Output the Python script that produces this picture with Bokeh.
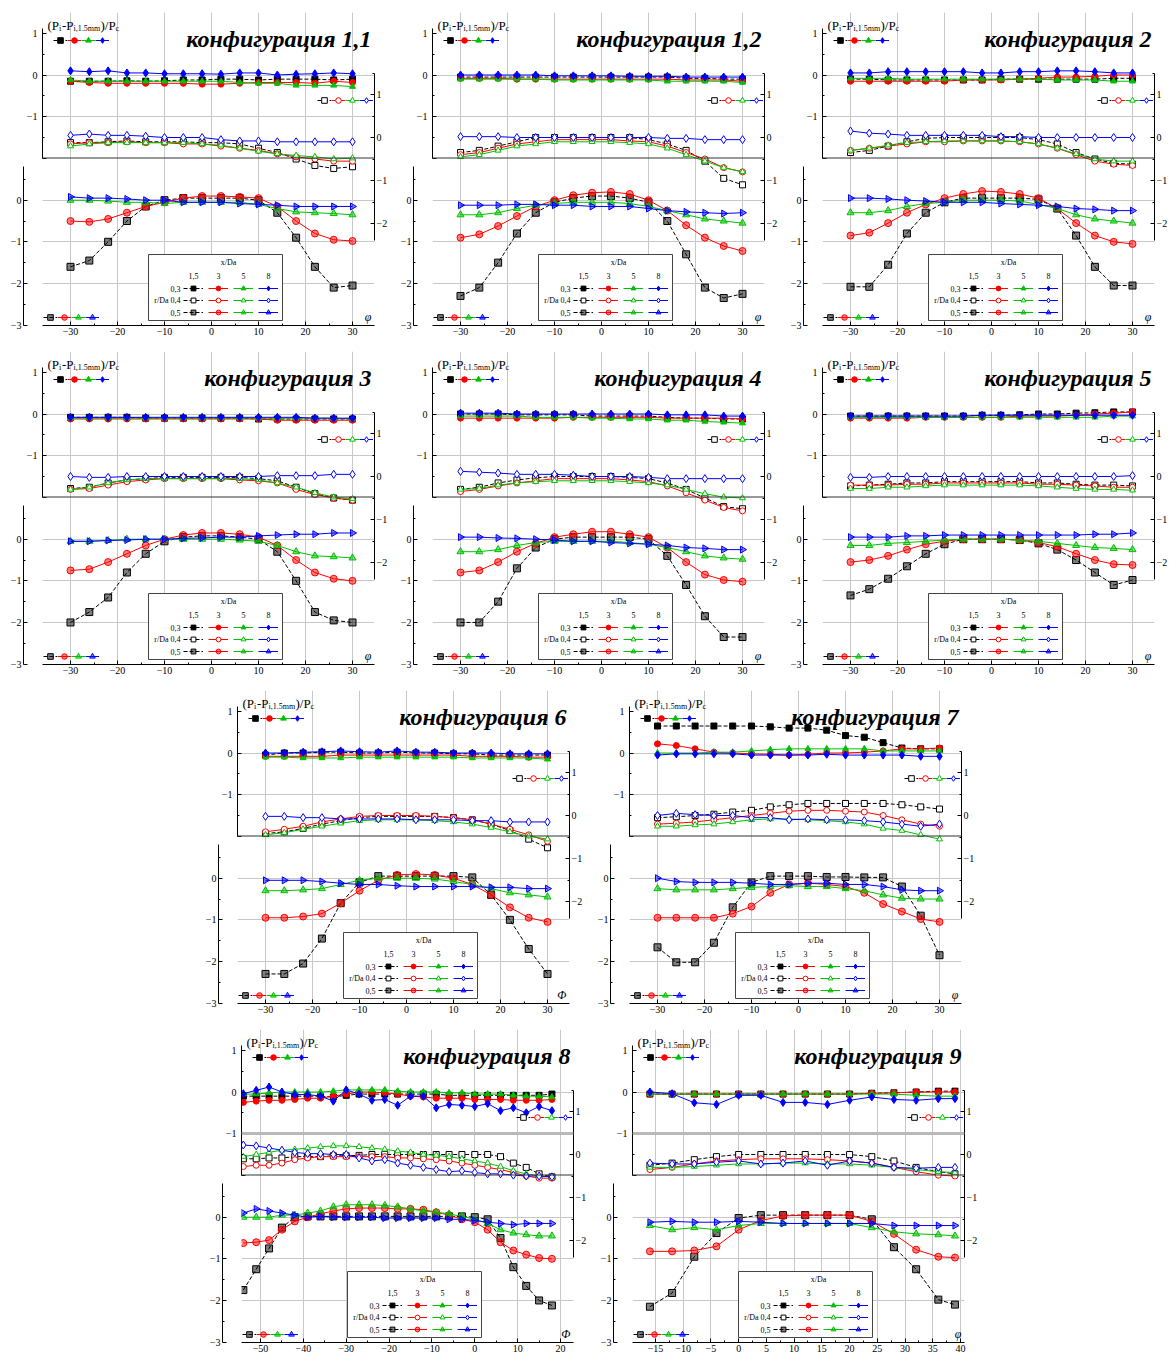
import numpy as np
from bokeh.plotting import figure
from bokeh.models import (Range1d, LinearAxis, FixedTicker, Grid, Span, Label, Legend,
                          LegendItem, BoxAnnotation, Spacer)
from bokeh.layouts import column, row
from bokeh.embed import file_html
from bokeh.resources import INLINE

# ---------------- data ----------------
titles = ["конфигурация 1,1", "конфигурация 1,2", "конфигурация 2", "конфигурация 3",
          "конфигурация 4", "конфигурация 5", "конфигурация 6", "конфигурация 7",
          "конфигурация 8", "конфигурация 9"]

x_std = [-30, -26, -22, -18, -14, -10, -6, -2, 2, 6, 10, 14, 18, 22, 26, 30]
x_c8 = [-54, -51, -48, -45, -42, -39, -36, -33, -30, -27, -24, -21, -18, -15, -12, -9, -6, -3, 0, 3, 6, 9, 12, 15, 18]
x_c9 = [-16, -12, -8, -4, 0, 4, 8, 12, 16, 20, 24, 28, 32, 36, 39]

xticks_std = [-30, -20, -10, 0, 10, 20, 30]
xticks_c8 = [-50, -40, -30, -20, -10, 0, 10, 20]
xticks_c9 = [-15, -10, -5, 0, 5, 10, 15, 20, 25, 30, 35, 40]

series_colors = ["#000000", "#ff0000", "#00c000", "#0000ff"]
x_da_labels = ["1,5", "3", "5", "8"]
row_labels = ["0,3", "r/Da 0,4", "0,5"]

# each group: [black, red, green, blue]
c11_top = [[-0.15, -0.15, -0.15, -0.14, -0.15, -0.14, -0.12, -0.12, -0.1, -0.1, -0.12, -0.1, -0.1, -0.1, -0.12, -0.1],
           [-0.15, -0.18, -0.2, -0.2, -0.2, -0.2, -0.2, -0.22, -0.22, -0.2, -0.18, -0.18, -0.18, -0.2, -0.15, -0.18],
           [-0.12, -0.15, -0.15, -0.15, -0.15, -0.15, -0.15, -0.15, -0.15, -0.18, -0.2, -0.2, -0.25, -0.25, -0.25, -0.28],
           [0.1, 0.08, 0.1, 0.05, 0.05, 0.03, 0.03, 0.03, 0.02, 0.05, 0.05, 0.0, 0.02, 0.03, 0.05, 0.03]]
c11_mid = [[-0.12, -0.12, -0.1, -0.08, -0.1, -0.1, -0.1, -0.12, -0.12, -0.15, -0.25, -0.35, -0.5, -0.65, -0.72, -0.68],
           [-0.15, -0.12, -0.12, -0.1, -0.12, -0.12, -0.15, -0.15, -0.2, -0.25, -0.3, -0.38, -0.45, -0.5, -0.55, -0.55],
           [-0.2, -0.15, -0.12, -0.12, -0.12, -0.12, -0.12, -0.15, -0.18, -0.25, -0.32, -0.38, -0.42, -0.45, -0.5, -0.48],
           [0.05, 0.08, 0.05, 0.05, 0.03, 0.0, 0.0, 0.0, -0.05, -0.08, -0.08, -0.1, -0.1, -0.1, -0.1, -0.1]]
c11_bot = [[-1.6, -1.45, -1.0, -0.5, -0.15, 0.0, 0.05, 0.05, 0.05, 0.05, 0.0, -0.3, -0.9, -1.6, -2.1, -2.05],
           [-0.5, -0.52, -0.45, -0.3, -0.15, -0.05, 0.05, 0.1, 0.1, 0.08, 0.05, -0.15, -0.5, -0.8, -0.95, -0.98],
           [0.0, 0.0, -0.02, -0.05, -0.05, -0.08, -0.05, -0.05, -0.05, -0.05, -0.1, -0.2, -0.28, -0.3, -0.32, -0.35],
           [0.08, 0.05, 0.05, 0.03, 0.0, 0.0, -0.05, -0.05, -0.05, -0.08, -0.1, -0.12, -0.15, -0.15, -0.15, -0.15]]

c12_top = [[-0.05, -0.05, -0.05, -0.05, -0.05, -0.05, -0.05, -0.05, -0.05, -0.05, -0.05, -0.05, -0.08, -0.08, -0.1, -0.1],
           [-0.08, -0.08, -0.08, -0.1, -0.1, -0.1, -0.1, -0.1, -0.1, -0.1, -0.1, -0.1, -0.12, -0.12, -0.12, -0.15],
           [-0.1, -0.1, -0.1, -0.1, -0.1, -0.12, -0.12, -0.12, -0.12, -0.12, -0.12, -0.15, -0.15, -0.15, -0.15, -0.18],
           [0.0, 0.0, 0.0, 0.0, 0.0, -0.02, -0.02, -0.02, -0.02, -0.03, -0.03, -0.03, -0.05, -0.05, -0.05, -0.05]]
c12_mid = [[-0.35, -0.3, -0.2, -0.1, 0.0, 0.0, 0.0, 0.0, 0.0, 0.0, -0.05, -0.15, -0.3, -0.55, -0.95, -1.1],
           [-0.4, -0.35, -0.25, -0.15, -0.1, -0.05, -0.05, -0.05, -0.05, -0.08, -0.1, -0.2, -0.35, -0.5, -0.7, -0.8],
           [-0.45, -0.4, -0.3, -0.2, -0.15, -0.1, -0.1, -0.1, -0.1, -0.12, -0.15, -0.25, -0.4, -0.55, -0.7, -0.8],
           [0.02, 0.02, 0.02, 0.0, 0.0, 0.0, 0.0, 0.0, 0.0, 0.0, 0.0, -0.02, -0.02, -0.05, -0.05, -0.05]]
c12_bot = [[-2.3, -2.1, -1.5, -0.8, -0.3, -0.05, 0.05, 0.1, 0.1, 0.05, -0.05, -0.5, -1.3, -2.1, -2.35, -2.25],
           [-0.9, -0.82, -0.62, -0.38, -0.15, 0.0, 0.12, 0.18, 0.2, 0.15, 0.0, -0.25, -0.6, -0.9, -1.1, -1.22],
           [-0.35, -0.35, -0.3, -0.2, -0.12, -0.08, -0.05, -0.05, -0.05, -0.08, -0.15, -0.25, -0.35, -0.45, -0.5, -0.55],
           [-0.12, -0.12, -0.12, -0.1, -0.1, -0.12, -0.12, -0.15, -0.15, -0.15, -0.2, -0.25, -0.28, -0.3, -0.32, -0.3]]

c2_top = [[-0.1, -0.1, -0.12, -0.12, -0.12, -0.12, -0.12, -0.12, -0.1, -0.1, -0.1, -0.1, -0.1, -0.1, -0.08, -0.08],
          [-0.15, -0.15, -0.15, -0.15, -0.15, -0.15, -0.12, -0.12, -0.12, -0.1, -0.08, -0.05, -0.05, -0.03, 0.0, 0.0],
          [-0.08, -0.08, -0.08, -0.1, -0.1, -0.1, -0.1, -0.1, -0.1, -0.1, -0.1, -0.12, -0.12, -0.12, -0.15, -0.15],
          [0.05, 0.05, 0.08, 0.08, 0.08, 0.08, 0.08, 0.05, 0.05, 0.08, 0.08, 0.1, 0.1, 0.08, 0.05, 0.05]]
c2_mid = [[-0.35, -0.3, -0.2, -0.1, -0.02, 0.0, 0.0, 0.0, 0.0, 0.0, -0.05, -0.15, -0.35, -0.5, -0.6, -0.62],
          [-0.3, -0.25, -0.2, -0.15, -0.1, -0.1, -0.08, -0.08, -0.08, -0.1, -0.15, -0.25, -0.4, -0.55, -0.62, -0.65],
          [-0.3, -0.25, -0.18, -0.12, -0.1, -0.08, -0.08, -0.08, -0.08, -0.1, -0.15, -0.25, -0.38, -0.5, -0.55, -0.55],
          [0.15, 0.1, 0.08, 0.05, 0.05, 0.05, 0.05, 0.05, 0.02, 0.02, 0.0, 0.0, 0.0, 0.0, 0.0, 0.0]]
c2_bot = [[-2.08, -2.08, -1.55, -0.8, -0.3, -0.05, 0.05, 0.05, 0.05, 0.05, 0.02, -0.2, -0.85, -1.6, -2.05, -2.05],
          [-0.85, -0.78, -0.55, -0.3, -0.1, 0.05, 0.15, 0.22, 0.2, 0.15, 0.05, -0.2, -0.55, -0.85, -1.0, -1.05],
          [-0.3, -0.3, -0.25, -0.15, -0.08, -0.05, 0.0, 0.0, 0.0, -0.02, -0.1, -0.2, -0.35, -0.45, -0.5, -0.55],
          [0.05, 0.05, 0.03, 0.0, -0.02, -0.05, -0.05, -0.05, -0.08, -0.1, -0.12, -0.15, -0.2, -0.22, -0.25, -0.25]]

c3_top = [[-0.08, -0.08, -0.08, -0.08, -0.1, -0.1, -0.1, -0.1, -0.1, -0.1, -0.12, -0.12, -0.12, -0.12, -0.12, -0.12],
          [-0.12, -0.12, -0.12, -0.12, -0.12, -0.12, -0.12, -0.12, -0.12, -0.12, -0.12, -0.15, -0.15, -0.15, -0.15, -0.15],
          [-0.1, -0.1, -0.1, -0.1, -0.1, -0.1, -0.1, -0.1, -0.1, -0.1, -0.1, -0.1, -0.1, -0.1, -0.1, -0.12],
          [-0.08, -0.08, -0.08, -0.08, -0.08, -0.08, -0.08, -0.08, -0.08, -0.08, -0.08, -0.08, -0.08, -0.1, -0.1, -0.1]]
c3_mid = [[-0.28, -0.25, -0.15, -0.08, -0.05, -0.02, -0.02, -0.02, -0.02, -0.02, -0.05, -0.1, -0.25, -0.4, -0.5, -0.55],
          [-0.3, -0.28, -0.2, -0.12, -0.08, -0.05, -0.05, -0.05, -0.05, -0.08, -0.1, -0.15, -0.3, -0.42, -0.5, -0.55],
          [-0.3, -0.25, -0.15, -0.08, -0.05, -0.05, -0.05, -0.05, -0.05, -0.05, -0.08, -0.15, -0.25, -0.38, -0.48, -0.52],
          [0.0, -0.02, -0.02, 0.0, 0.0, 0.0, 0.0, 0.0, 0.0, 0.0, 0.0, 0.02, 0.02, 0.02, 0.05, 0.05]]
c3_bot = [[-2.0, -1.75, -1.4, -0.8, -0.35, -0.05, 0.05, 0.08, 0.08, 0.05, 0.0, -0.3, -1.0, -1.75, -1.95, -2.0],
          [-0.75, -0.72, -0.55, -0.35, -0.15, 0.0, 0.1, 0.15, 0.15, 0.12, 0.05, -0.15, -0.5, -0.8, -0.95, -1.0],
          [-0.05, -0.05, -0.03, 0.0, 0.0, 0.0, 0.0, 0.0, 0.0, -0.02, -0.05, -0.15, -0.3, -0.4, -0.42, -0.45],
          [-0.05, -0.05, -0.03, -0.02, 0.0, 0.0, 0.02, 0.03, 0.05, 0.05, 0.08, 0.1, 0.12, 0.12, 0.15, 0.15]]

c4_top = [[0.0, 0.0, 0.0, -0.02, -0.02, -0.02, -0.02, -0.05, -0.05, -0.05, -0.05, -0.08, -0.1, -0.1, -0.12, -0.12],
          [-0.1, -0.1, -0.1, -0.1, -0.1, -0.1, -0.08, -0.08, -0.08, -0.08, -0.08, -0.1, -0.1, -0.1, -0.1, -0.12],
          [-0.05, -0.05, -0.05, -0.05, -0.08, -0.08, -0.08, -0.1, -0.1, -0.12, -0.12, -0.15, -0.15, -0.18, -0.2, -0.22],
          [0.02, 0.02, 0.02, 0.0, 0.0, 0.0, 0.0, 0.0, 0.0, 0.0, 0.0, -0.02, -0.02, -0.02, -0.05, -0.05]]
c4_mid = [[-0.3, -0.25, -0.15, -0.08, -0.03, 0.0, 0.0, 0.0, 0.0, -0.02, -0.05, -0.15, -0.3, -0.5, -0.7, -0.75],
          [-0.35, -0.3, -0.22, -0.15, -0.1, -0.05, -0.05, -0.05, -0.05, -0.08, -0.12, -0.22, -0.38, -0.55, -0.72, -0.8],
          [-0.3, -0.28, -0.2, -0.15, -0.12, -0.1, -0.1, -0.1, -0.1, -0.12, -0.15, -0.2, -0.3, -0.4, -0.48, -0.5],
          [0.12, 0.1, 0.08, 0.05, 0.05, 0.05, 0.03, 0.0, 0.0, 0.0, -0.02, -0.05, -0.05, -0.05, -0.05, -0.05]]
c4_bot = [[-2.0, -2.0, -1.5, -0.7, -0.2, 0.0, 0.05, 0.05, 0.05, 0.05, 0.0, -0.4, -1.1, -1.85, -2.35, -2.35],
          [-0.8, -0.75, -0.55, -0.3, -0.1, 0.05, 0.12, 0.18, 0.18, 0.12, 0.05, -0.2, -0.55, -0.85, -0.98, -1.02],
          [-0.3, -0.3, -0.25, -0.15, -0.08, -0.05, -0.05, -0.05, -0.05, -0.08, -0.12, -0.2, -0.3, -0.4, -0.45, -0.48],
          [0.05, 0.05, 0.03, 0.02, 0.0, -0.02, -0.05, -0.05, -0.08, -0.1, -0.12, -0.15, -0.2, -0.22, -0.25, -0.25]]

c5_top = [[-0.05, -0.05, -0.05, -0.05, -0.05, -0.05, -0.05, -0.03, -0.03, -0.02, 0.0, 0.0, 0.02, 0.03, 0.05, 0.05],
          [-0.1, -0.1, -0.1, -0.1, -0.08, -0.08, -0.08, -0.08, -0.08, -0.05, -0.05, -0.05, -0.03, 0.0, 0.02, 0.05],
          [-0.08, -0.08, -0.08, -0.08, -0.08, -0.08, -0.08, -0.08, -0.08, -0.08, -0.08, -0.08, -0.08, -0.08, -0.05, -0.05],
          [-0.05, -0.05, -0.05, -0.05, -0.05, -0.05, -0.05, -0.03, -0.03, -0.03, -0.03, -0.03, -0.03, -0.03, -0.03, -0.03]]
c5_mid = [[-0.22, -0.2, -0.18, -0.15, -0.15, -0.12, -0.12, -0.12, -0.12, -0.12, -0.15, -0.15, -0.18, -0.2, -0.2, -0.22],
          [-0.2, -0.2, -0.2, -0.18, -0.18, -0.15, -0.15, -0.15, -0.15, -0.15, -0.18, -0.18, -0.2, -0.22, -0.25, -0.25],
          [-0.28, -0.28, -0.25, -0.25, -0.22, -0.2, -0.2, -0.2, -0.2, -0.2, -0.22, -0.25, -0.28, -0.3, -0.3, -0.32],
          [-0.02, -0.02, 0.0, 0.0, 0.0, 0.0, 0.0, 0.0, 0.0, 0.0, 0.0, 0.0, 0.0, 0.0, 0.0, 0.02]]
c5_bot = [[-1.35, -1.2, -0.95, -0.65, -0.35, -0.12, 0.0, 0.0, 0.0, -0.02, -0.1, -0.25, -0.5, -0.8, -1.1, -0.98],
          [-0.55, -0.5, -0.4, -0.25, -0.12, -0.05, 0.0, 0.0, 0.0, -0.02, -0.08, -0.18, -0.35, -0.5, -0.6, -0.62],
          [-0.15, -0.15, -0.1, -0.08, -0.05, -0.02, 0.0, 0.0, 0.0, -0.02, -0.05, -0.1, -0.15, -0.2, -0.22, -0.25],
          [0.05, 0.05, 0.05, 0.08, 0.08, 0.1, 0.1, 0.1, 0.1, 0.1, 0.1, 0.1, 0.1, 0.12, 0.12, 0.15]]

c6_top = [[-0.05, 0.0, 0.0, 0.02, 0.02, 0.0, 0.0, 0.02, 0.0, 0.0, -0.02, -0.02, -0.05, -0.05, -0.05, -0.05],
          [-0.08, -0.08, -0.08, -0.08, -0.05, -0.05, -0.05, -0.05, -0.05, -0.05, -0.05, -0.08, -0.08, -0.08, -0.1, -0.1],
          [-0.1, -0.1, -0.12, -0.12, -0.12, -0.1, -0.1, -0.1, -0.1, -0.1, -0.1, -0.12, -0.12, -0.12, -0.12, -0.15],
          [0.0, 0.0, 0.02, 0.03, 0.05, 0.03, 0.02, 0.05, 0.02, 0.02, 0.0, 0.0, 0.0, -0.02, -0.02, -0.02]]
c6_mid = [[-0.42, -0.38, -0.3, -0.2, -0.12, -0.05, -0.02, -0.02, -0.02, -0.02, -0.05, -0.1, -0.2, -0.35, -0.55, -0.75],
          [-0.38, -0.32, -0.25, -0.15, -0.08, -0.02, 0.0, 0.0, 0.0, -0.02, -0.05, -0.1, -0.2, -0.32, -0.45, -0.6],
          [-0.45, -0.4, -0.32, -0.25, -0.18, -0.12, -0.1, -0.1, -0.1, -0.12, -0.15, -0.2, -0.28, -0.38, -0.48, -0.55],
          [-0.02, -0.02, -0.05, -0.05, -0.08, -0.08, -0.08, -0.08, -0.1, -0.1, -0.1, -0.12, -0.12, -0.15, -0.15, -0.15]]
c6_bot = [[-2.3, -2.3, -2.05, -1.45, -0.6, -0.1, 0.05, 0.05, 0.05, 0.05, 0.05, 0.02, -0.4, -1.0, -1.7, -2.3],
          [-0.95, -0.95, -0.92, -0.85, -0.6, -0.3, -0.05, 0.08, 0.1, 0.08, 0.0, -0.15, -0.4, -0.7, -0.95, -1.05],
          [-0.3, -0.3, -0.28, -0.25, -0.15, -0.05, 0.0, 0.0, 0.0, -0.02, -0.08, -0.15, -0.25, -0.35, -0.4, -0.45],
          [-0.05, -0.05, -0.05, -0.08, -0.12, -0.15, -0.15, -0.18, -0.2, -0.2, -0.2, -0.2, -0.22, -0.22, -0.25, -0.25]]

c7_top = [[0.65, 0.65, 0.65, 0.65, 0.65, 0.65, 0.63, 0.6, 0.6, 0.55, 0.42, 0.38, 0.25, 0.12, 0.1, 0.1],
          [0.22, 0.18, 0.1, 0.02, 0.0, -0.02, -0.03, -0.05, -0.03, 0.0, 0.0, 0.02, 0.05, 0.1, 0.1, 0.12],
          [0.0, 0.0, 0.0, 0.02, 0.02, 0.05, 0.08, 0.1, 0.1, 0.1, 0.1, 0.1, 0.05, 0.05, 0.05, 0.05],
          [-0.05, -0.02, -0.02, -0.02, -0.02, -0.05, -0.05, -0.05, -0.05, -0.03, -0.05, -0.05, -0.05, -0.05, -0.08, -0.08]]
c7_mid = [[-0.05, -0.03, 0.0, 0.03, 0.08, 0.12, 0.2, 0.25, 0.28, 0.28, 0.28, 0.28, 0.28, 0.25, 0.2, 0.15],
          [-0.2, -0.18, -0.15, -0.1, -0.05, 0.0, 0.05, 0.1, 0.12, 0.12, 0.1, 0.08, 0.0, -0.1, -0.2, -0.25],
          [-0.25, -0.25, -0.22, -0.2, -0.15, -0.1, -0.08, -0.08, -0.1, -0.12, -0.15, -0.2, -0.3, -0.35, -0.45, -0.55],
          [0.0, 0.05, 0.02, 0.0, 0.0, -0.05, -0.05, -0.1, -0.08, -0.1, -0.1, -0.12, -0.15, -0.2, -0.25, -0.2]]
c7_bot = [[-1.66, -2.02, -2.02, -1.55, -0.7, -0.1, 0.05, 0.05, 0.05, 0.03, 0.03, 0.02, 0.02, -0.2, -0.9, -1.85],
          [-0.95, -0.95, -0.95, -0.95, -0.85, -0.68, -0.35, -0.15, -0.12, -0.15, -0.2, -0.35, -0.62, -0.8, -0.98, -1.05],
          [-0.25, -0.28, -0.28, -0.28, -0.25, -0.22, -0.2, -0.18, -0.2, -0.2, -0.25, -0.3, -0.4, -0.48, -0.5, -0.5],
          [0.0, -0.08, -0.1, -0.1, -0.1, -0.12, -0.15, -0.15, -0.12, -0.12, -0.15, -0.15, -0.2, -0.28, -0.3, -0.3]]

c8_top = [[-0.1, -0.1, -0.1, -0.1, -0.1, -0.1, -0.1, -0.12, -0.08, -0.05, -0.05, -0.05, -0.05, -0.05, -0.05, -0.05, -0.08, -0.08, -0.08, -0.08, -0.08, -0.08, -0.08, -0.08, -0.05],
          [-0.25, -0.22, -0.2, -0.2, -0.18, -0.15, -0.15, -0.1, -0.05, 0.0, 0.0, -0.02, -0.05, -0.1, -0.12, -0.15, -0.15, -0.15, -0.18, -0.18, -0.18, -0.2, -0.2, -0.2, -0.18],
          [-0.05, -0.05, -0.02, 0.0, 0.0, 0.0, 0.0, 0.02, 0.05, 0.05, 0.05, 0.05, 0.02, 0.0, 0.0, 0.0, -0.02, -0.02, -0.05, -0.05, -0.05, -0.08, -0.1, -0.1, -0.12],
          [-0.04, 0.04, 0.12, 0.0, -0.06, -0.06, -0.1, -0.22, 0.05, -0.05, -0.2, -0.18, -0.32, -0.1, -0.1, -0.38, -0.3, -0.32, -0.35, -0.28, -0.45, -0.38, -0.5, -0.35, -0.45]]
c8_mid = [[-0.1, -0.1, -0.08, -0.08, -0.05, -0.05, -0.05, -0.03, -0.03, -0.02, 0.0, 0.0, 0.0, 0.0, 0.0, 0.0, 0.0, 0.0, 0.0, 0.0, -0.05, -0.2, -0.3, -0.45, -0.52],
          [-0.28, -0.25, -0.25, -0.2, -0.12, -0.08, -0.05, -0.05, -0.05, -0.05, -0.05, -0.05, -0.08, -0.08, -0.1, -0.12, -0.15, -0.2, -0.25, -0.3, -0.35, -0.42, -0.5, -0.55, -0.55],
          [-0.05, 0.0, 0.05, 0.1, 0.12, 0.15, 0.18, 0.2, 0.2, 0.18, 0.15, 0.12, 0.08, 0.05, 0.0, -0.02, -0.05, -0.1, -0.15, -0.2, -0.28, -0.38, -0.45, -0.5, -0.52],
          [0.22, 0.2, 0.15, 0.1, 0.05, 0.02, 0.02, 0.0, 0.0, -0.08, -0.15, -0.12, -0.2, -0.25, -0.3, -0.35, -0.4, -0.38, -0.42, -0.45, -0.45, -0.48, -0.5, -0.5, -0.52]]
c8_bot = [[-1.75, -1.25, -0.75, -0.25, 0.0, 0.02, 0.02, 0.02, 0.02, 0.02, 0.02, 0.02, 0.02, 0.02, 0.02, 0.02, 0.02, 0.02, 0.0, -0.05, -0.5, -1.2, -1.65, -2.0, -2.12],
          [-0.62, -0.6, -0.55, -0.3, -0.1, 0.0, 0.08, 0.15, 0.2, 0.22, 0.22, 0.22, 0.2, 0.2, 0.18, 0.12, 0.05, -0.05, -0.12, -0.3, -0.6, -0.8, -0.9, -0.98, -1.0],
          [0.0, 0.0, 0.0, 0.05, 0.05, 0.1, 0.15, 0.25, 0.3, 0.3, 0.3, 0.28, 0.25, 0.2, 0.15, 0.12, 0.08, 0.02, -0.05, -0.15, -0.3, -0.38, -0.42, -0.45, -0.45],
          [0.1, 0.2, 0.15, 0.1, 0.05, 0.0, 0.02, 0.0, 0.0, 0.0, 0.0, -0.02, -0.02, -0.02, -0.02, -0.02, -0.05, -0.05, -0.08, -0.12, -0.15, -0.18, -0.15, -0.15, -0.15]]

c9_top = [[-0.05, -0.05, -0.05, -0.05, -0.05, -0.05, -0.05, -0.05, -0.05, -0.05, -0.03, -0.02, 0.0, 0.02, 0.02],
          [-0.05, -0.05, -0.05, -0.05, -0.05, -0.05, -0.05, -0.05, -0.05, -0.05, -0.03, -0.02, 0.0, 0.0, 0.0],
          [-0.05, -0.05, -0.05, -0.05, -0.05, -0.05, -0.05, -0.05, -0.05, -0.05, -0.05, -0.05, -0.08, -0.1, -0.1],
          [0.0, -0.04, -0.26, -0.3, -0.08, -0.08, -0.25, -0.25, -0.3, -0.2, -0.12, -0.18, -0.2, -0.16, -0.16]]
c9_mid = [[-0.25, -0.2, -0.12, -0.05, 0.0, 0.0, 0.0, 0.0, 0.0, 0.0, -0.05, -0.15, -0.3, -0.4, -0.45],
          [-0.35, -0.3, -0.22, -0.15, -0.12, -0.1, -0.1, -0.1, -0.12, -0.15, -0.2, -0.3, -0.4, -0.48, -0.5],
          [-0.3, -0.3, -0.28, -0.25, -0.22, -0.22, -0.2, -0.2, -0.22, -0.22, -0.25, -0.3, -0.35, -0.4, -0.42],
          [-0.2, -0.22, -0.22, -0.18, -0.15, -0.22, -0.2, -0.15, -0.25, -0.15, -0.2, -0.3, -0.32, -0.3, -0.3]]
c9_bot = [[-2.15, -1.82, -0.95, -0.38, -0.02, 0.05, 0.05, 0.05, 0.05, 0.05, -0.05, -0.72, -1.25, -1.98, -2.1],
          [-0.82, -0.82, -0.8, -0.7, -0.3, -0.08, 0.03, 0.05, 0.05, 0.05, -0.1, -0.4, -0.78, -0.95, -0.97],
          [-0.2, -0.3, -0.25, -0.3, -0.2, -0.15, -0.15, -0.15, -0.15, -0.15, -0.25, -0.35, -0.4, -0.42, -0.45],
          [-0.12, -0.1, -0.12, -0.12, -0.1, -0.12, -0.15, -0.15, -0.15, -0.15, -0.15, -0.2, -0.2, -0.2, -0.2]]

# ---------------- styling helpers ----------------
W, H = 390, 339
BL, BR, BT, BB = 42, 16, 12, 14     # borders around the frame
FW, FH = W - BL - BR, H - BT - BB   # 332 x 313
TICK_FONT = "Liberation Serif"
GRID_COLOR = "#c8c8c8"

TOP_MARKERS = ["square", "circle", "triangle", "diamond"]
MID_MARKERS = ["square", "circle", "triangle", "diamond"]
BOT_MARKERS = ["square", "circle", "triangle", "triangle"]
BOT_ANGLES = [0.0, 0.0, 0.0, -np.pi / 2]


def style_axis(ax):
    ax.axis_line_color = "black"
    ax.axis_line_width = 1
    ax.major_tick_in = 4
    ax.major_tick_out = 0
    ax.minor_tick_in = 2
    ax.minor_tick_out = 0
    ax.major_tick_line_color = "black"
    ax.minor_tick_line_color = "black"
    ax.major_label_text_font = TICK_FONT
    ax.major_label_text_font_size = "10px"
    ax.major_label_text_color = "black"
    ax.major_label_standoff = 2


def row_legend(p, pairs, x, y, gw, gh, spacing):
    items = [LegendItem(label="", renderers=list(pr)) for pr in pairs]
    lg = Legend(items=items, location=(x, y), orientation="horizontal",
                glyph_width=gw, glyph_height=gh, label_width=0, label_standoff=0,
                label_height=gh, label_text_font_size="6px", spacing=spacing, padding=0,
                margin=0, border_line_color=None, background_fill_alpha=0.0)
    p.add_layout(lg)


def screen_label(p, x, y, text, size, font="Liberation Serif", style="normal",
                 align="left", baseline="middle"):
    p.add_layout(Label(x=x, y=y, x_units="screen", y_units="screen", text=text,
                       text_font=font, text_font_size=size, text_font_style=style,
                       text_align=align, text_baseline=baseline, text_color="black"))


def make_panel(title, xs, top, mid, bot, xticks, x_lo, x_hi, phi_text, thick_minus1=False):
    p = figure(width=W, height=H, x_range=Range1d(x_lo, x_hi), y_range=Range1d(-6.036, 1.506),
               output_backend="svg", toolbar_location=None, title=None,
               min_border_left=BL, min_border_right=BR, min_border_top=BT, min_border_bottom=BB)
    p.extra_y_ranges = {"mid": Range1d(-4.372, 2.907), "bot": Range1d(-3.01, 4.51)}
    p.outline_line_color = None
    p.background_fill_color = "white"
    p.border_fill_color = "white"

    # axes
    ax_top = p.left[0]
    ax_top.ticker = FixedTicker(ticks=[1, 0, -1, -2], minor_ticks=[0.5, -0.5, -1.5])
    ax_top.bounds = (-2, 1.12)
    ax_top.major_label_overrides = {-2: ""}
    style_axis(ax_top)
    ax_top.major_label_standoff = 5

    ax_bot = LinearAxis(y_range_name="bot",
                        ticker=FixedTicker(ticks=[0, -1, -2, -3], minor_ticks=[0.5, -0.5, -1.5, -2.5]),
                        bounds=(-3.01, 0.8))
    style_axis(ax_bot)
    p.add_layout(ax_bot, "left")

    ax_mid = LinearAxis(y_range_name="mid",
                        ticker=FixedTicker(ticks=[1, 0, -1, -2], minor_ticks=[1.5, 0.5, -0.5, -1.5]),
                        bounds=(-2.4, 1.5))
    style_axis(ax_mid)
    p.add_layout(ax_mid, "right")

    ax_x = p.below[0]
    minor = [t + (xticks[1] - xticks[0]) / 2 for t in xticks[:-1]]
    ax_x.ticker = FixedTicker(ticks=xticks, minor_ticks=minor)
    style_axis(ax_x)

    # grids
    p.xgrid.ticker = FixedTicker(ticks=xticks)
    p.xgrid.grid_line_color = GRID_COLOR
    p.ygrid.ticker = FixedTicker(ticks=[0, -1])
    p.ygrid.grid_line_color = GRID_COLOR
    p.add_layout(Grid(dimension=1, ticker=FixedTicker(ticks=[0, -1, -2]), y_range_name="bot",
                      grid_line_color=GRID_COLOR))
    if thick_minus1:
        p.add_layout(Span(location=-1, dimension="width", line_color="#b8b8b8", line_width=3))
    p.add_layout(Span(location=-2, dimension="width", line_color="#333333", line_width=1))

    # data
    pairs = {"top": [], "mid": [], "bot": []}
    for i, c in enumerate(series_colors):
        dash = "4 2" if i == 0 else "solid"
        l1 = p.line(xs, top[i], line_color=c, line_width=1, line_dash=dash)
        s1 = p.scatter(xs, top[i], marker=TOP_MARKERS[i], size=8 if i == 3 else 6,
                       line_color=c, fill_color=c)
        pairs["top"].append((l1, s1))
        l2 = p.line(xs, mid[i], line_color=c, line_width=1, line_dash=dash, y_range_name="mid")
        s2 = p.scatter(xs, mid[i], marker=MID_MARKERS[i], size=8 if i == 3 else 6,
                       line_color=c, fill_color="white", y_range_name="mid")
        pairs["mid"].append((l2, s2))
        l3 = p.line(xs, bot[i], line_color=c, line_width=1, line_dash=dash, y_range_name="bot")
        s3 = p.scatter(xs, bot[i], marker=BOT_MARKERS[i], size=7, angle=BOT_ANGLES[i],
                       line_color=c, fill_color=c, fill_alpha=0.5, y_range_name="bot")
        pairs["bot"].append((l3, s3))

    # small legends
    row_legend(p, pairs["top"], 11, 278, 14, 14, 0)
    row_legend(p, pairs["mid"], FW - 57, 218, 14, 14, 0)
    row_legend(p, pairs["bot"], 1, 1, 14, 14, 0)

    # main legend box
    p.add_layout(BoxAnnotation(left=106, right=240, top=71, bottom=5,
                               left_units="screen", right_units="screen",
                               top_units="screen", bottom_units="screen",
                               fill_color="white", fill_alpha=1.0,
                               line_color="#444444", line_width=1, line_alpha=1.0))
    screen_label(p, 186, 63, "x/Da", "8px", align="center")
    for j, lab in enumerate(x_da_labels):
        screen_label(p, 151 + 25 * j, 50, lab, "8px", align="center")
    for r, key in enumerate(["top", "mid", "bot"]):
        screen_label(p, 138, 37 - 12 * r, row_labels[r], "8px", align="right")
        row_legend(p, pairs[key], 141, 31 - 12 * r, 20, 12, 5)

    # texts
    screen_label(p, FW - 3, 287, title, "24px", style="bold italic", align="right")
    # (P_i - P_{i,1.5mm}) / P_c built from main text and subscripts
    screen_label(p, 5, 300, "(P", "13px", baseline="alphabetic")
    screen_label(p, 16.5, 297, "i", "8px", baseline="alphabetic")
    screen_label(p, 19.5, 300, "-P", "13px", baseline="alphabetic")
    screen_label(p, 31, 297, "i,1.5mm", "8px", baseline="alphabetic")
    screen_label(p, 58, 300, ")/P", "13px", baseline="alphabetic")
    screen_label(p, 73, 297, "c", "8px", baseline="alphabetic")
    screen_label(p, FW - 3, 9, phi_text, "12px", style="italic", align="right")
    return p


panels = [
    (titles[0], x_std, c11_top, c11_mid, c11_bot, xticks_std, -35.96, 34.68, "φ"),
    (titles[1], x_std, c12_top, c12_mid, c12_bot, xticks_std, -35.96, 34.68, "φ"),
    (titles[2], x_std, c2_top, c2_mid, c2_bot, xticks_std, -35.96, 34.68, "φ"),
    (titles[3], x_std, c3_top, c3_mid, c3_bot, xticks_std, -35.96, 34.68, "φ"),
    (titles[4], x_std, c4_top, c4_mid, c4_bot, xticks_std, -35.96, 34.68, "φ"),
    (titles[5], x_std, c5_top, c5_mid, c5_bot, xticks_std, -35.96, 34.68, "φ"),
    (titles[6], x_std, c6_top, c6_mid, c6_bot, xticks_std, -35.96, 34.68, "Φ"),
    (titles[7], x_std, c7_top, c7_mid, c7_bot, xticks_std, -35.96, 34.68, "φ"),
    (titles[8], x_c8, c8_top, c8_mid, c8_bot, xticks_c8, -54.43, 23.03, "Φ"),
    (titles[9], x_c9, c9_top, c9_mid, c9_bot, xticks_c9, -19.14, 40.72, "φ"),
]

figs = []
for k, args in enumerate(panels):
    figs.append(make_panel(*args, thick_minus1=(k >= 8)))

layout = column(
    row(figs[0], figs[1], figs[2]),
    row(figs[3], figs[4], figs[5]),
    row(Spacer(width=195, height=H), figs[6], Spacer(width=2, height=H), figs[7]),
    row(Spacer(width=199, height=H), figs[8], Spacer(width=1, height=H), figs[9]),
)

open("out.html", "w").write(file_html(layout, INLINE))
